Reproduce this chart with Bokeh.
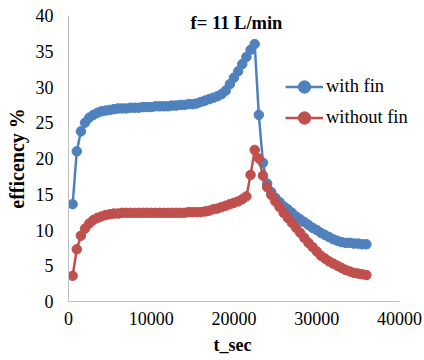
from bokeh.plotting import figure
from bokeh.models import Range1d, Label, Legend, LegendItem, FixedTicker, Title
from bokeh.embed import file_html
from bokeh.resources import INLINE

t_sec = [500, 1000, 1500, 2000, 2500, 3000, 3500, 4000, 4500, 5000,
         5500, 6000, 6500, 7000, 7500, 8000, 8500, 9000, 9500, 10000,
         10500, 11000, 11500, 12000, 12500, 13000, 13500, 14000, 14500, 15000,
         15500, 16000, 16500, 17000, 17500, 18000, 18500, 19000, 19500, 20000,
         20500, 21000, 21500, 22000, 22500, 23000, 23500, 24000, 24500, 25000,
         25500, 26000, 26500, 27000, 27500, 28000, 28500, 29000, 29500, 30000,
         30500, 31000, 31500, 32000, 32500, 33000, 33500, 34000, 34500, 35000,
         35500, 36000]

with_fin = [13.6, 21.0, 23.8, 25.0, 25.7, 26.1, 26.4, 26.6, 26.7, 26.8,
            26.9, 27.0, 27.0, 27.0, 27.1, 27.1, 27.1, 27.2, 27.2, 27.2,
            27.3, 27.3, 27.3, 27.3, 27.4, 27.4, 27.5, 27.5, 27.6, 27.6,
            27.7, 27.9, 28.1, 28.3, 28.5, 28.7, 29.0, 29.5, 30.4, 31.3,
            32.2, 33.2, 34.2, 35.2, 36.0, 26.1, 19.4, 16.5, 15.3, 14.5,
            13.9, 13.3, 12.9, 12.4, 11.9, 11.5, 11.1, 10.7, 10.3, 10.0,
            9.6, 9.3, 9.0, 8.7, 8.5, 8.3, 8.2, 8.2, 8.1, 8.1,
            8.0, 8.0]

without_fin = [3.6, 7.3, 9.2, 10.2, 10.9, 11.4, 11.7, 11.9, 12.1, 12.2,
               12.3, 12.3, 12.4, 12.4, 12.4, 12.4, 12.4, 12.4, 12.4, 12.4,
               12.4, 12.4, 12.4, 12.4, 12.4, 12.4, 12.4, 12.4, 12.5, 12.5,
               12.5, 12.5, 12.6, 12.7, 12.9, 13.0, 13.2, 13.4, 13.6, 13.8,
               14.0, 14.3, 14.7, 17.7, 21.2, 20.0, 17.6, 16.0, 14.9, 14.0,
               13.2, 12.4, 11.7, 11.0, 10.3, 9.6, 8.9, 8.2, 7.6, 7.0,
               6.4, 6.0, 5.6, 5.3, 5.0, 4.7, 4.4, 4.2, 4.0, 3.9,
               3.8, 3.7]

x_ticks = [0, 10000, 20000, 30000, 40000]
y_ticks = [0, 5, 10, 15, 20, 25, 30, 35, 40]
series_names = ["with fin", "without fin"]
series_colors = ["#4F81BD", "#C0504D"]
title_text = "f= 11 L/min"
x_title = "t_sec"
y_title = "efficency %"

FONT = "Liberation Serif"

# frame spans 68..424 px; axis line drawn only over 0..40000 (68..399 px)
p = figure(width=424, height=360, output_backend="svg", toolbar_location=None,
           x_range=Range1d(0, 43021), y_range=Range1d(0, 40),
           min_border_left=68, min_border_right=0, min_border_top=15,
           min_border_bottom=59)
p.outline_line_color = None
p.background_fill_color = "white"
p.border_fill_color = "white"
p.xgrid.visible = False
p.ygrid.visible = False

for ax in (p.xaxis[0], p.yaxis[0]):
    ax.axis_line_color = "#BFBFBF"
    ax.axis_line_width = 1
    ax.major_tick_line_color = None
    ax.minor_tick_line_color = None
    ax.major_tick_out = 0
    ax.major_tick_in = 0
    ax.minor_tick_out = 0
    ax.major_label_text_font = FONT
    ax.major_label_text_font_size = "18px"
    ax.major_label_text_color = "black"
    ax.axis_label_text_font = FONT
    ax.axis_label_text_font_style = "bold"
    ax.axis_label_text_color = "black"

p.xaxis.bounds = (0, 40000)
p.xaxis.ticker = FixedTicker(ticks=x_ticks)
p.yaxis.ticker = FixedTicker(ticks=y_ticks)
p.yaxis.axis_label = y_title
p.yaxis.axis_label_text_font_size = "20px"
p.xaxis.major_label_standoff = 10
p.yaxis.major_label_standoff = 15
p.yaxis.axis_label_standoff = 5

# x-axis title as a below panel, left-aligned with an offset to sit under 20000
p.add_layout(Title(text=x_title, align="left", offset=145, standoff=11,
                   text_font=FONT, text_font_size="18px",
                   text_font_style="bold", text_color="black"), "below")

items = []
for ys, name, col in zip([with_fin, without_fin], series_names, series_colors):
    ln = p.line(t_sec, ys, line_color=col, line_width=2.5)
    sc = p.scatter(t_sec, ys, marker="circle", size=9.5, fill_color=col,
                   line_color=col)
    items.append(LegendItem(label=name, renderers=[ln, sc]))

legend = Legend(items=items, location=(217, 168), orientation="vertical",
                background_fill_alpha=0, border_line_color=None,
                label_text_font=FONT, label_text_font_size="18.5px",
                label_text_color="black", glyph_width=38, glyph_height=31,
                label_height=31, spacing=0, padding=0, margin=0,
                label_standoff=3)
p.add_layout(legend, "center")

p.add_layout(Label(x=20300, y=38.9, text=title_text, text_font=FONT,
                   text_font_size="18.5px", text_font_style="bold",
                   text_align="center", text_baseline="middle",
                   text_color="black"))

open("out.html", "w").write(file_html(p, INLINE))
